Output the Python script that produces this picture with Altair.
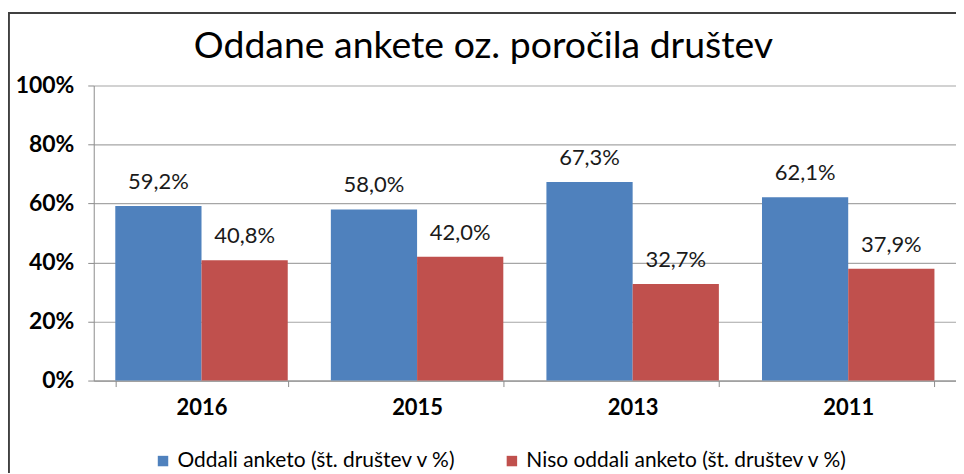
import altair as alt
import pandas as pd

title_text = "Oddane ankete oz. poročila društev"
years = ["2016", "2015", "2013", "2011"]
series = ["Oddali anketo (št. društev v %)", "Niso oddali anketo (št. društev v %)"]
oddali = [59.2, 58.0, 67.3, 62.1]
niso = [40.8, 42.0, 32.7, 37.9]
colors = ["#4F81BD", "#C0504D"]

rows = []
for i, y in enumerate(years):
    for s, vals in zip(series, [oddali, niso]):
        v = vals[i]
        rows.append({"leto": y, "serija": s, "vrednost": v,
                     "oznaka": f"{v:.1f}".replace(".", ",") + "%"})
df = pd.DataFrame(rows)

FONT = "Lato"
W, H = 865, 296

xenc = alt.X("leto:N", sort=years, title=None,
             scale=alt.Scale(paddingInner=0.2, paddingOuter=0.1),
             axis=alt.Axis(labelAngle=0, tickBand="extent", labelFont=FONT,
                           labelFontSize=22, labelFontWeight="bold",
                           labelColor="#000000", domainColor="#8c8c8c",
                           tickColor="#8c8c8c", tickSize=6, labelPadding=11,
                           grid=False))
xoff = alt.XOffset("serija:N", sort=series, scale=alt.Scale(paddingInner=0, paddingOuter=0))
yenc = alt.Y("vrednost:Q", title=None,
             scale=alt.Scale(domain=[0, 100], nice=False),
             axis=alt.Axis(values=[0, 20, 40, 60, 80, 100], labelExpr="datum.value + '%'",
                           labelFont=FONT, labelFontSize=23, labelFontWeight="bold",
                           labelColor="#000000", domainColor="#8c8c8c",
                           tickColor="#8c8c8c", tickSize=6, labelPadding=14,
                           gridColor="#a6a6a6", gridWidth=1.2))

bars = alt.Chart(df).mark_bar().encode(
    x=xenc, xOffset=xoff, y=yenc,
    color=alt.Color("serija:N", sort=series, title=None,
                    scale=alt.Scale(domain=series, range=colors),
                    legend=alt.Legend(orient="none", legendX=59, legendY=366,
                                      direction="horizontal", symbolType="square",
                                      symbolSize=110, symbolStrokeWidth=0,
                                      labelFont=FONT, labelFontSize=21,
                                      labelColor="#000000", columnPadding=45,
                                      labelLimit=500)),
)

labels = alt.Chart(df).mark_text(baseline="bottom", dy=-12, font=FONT,
                                 fontSize=22, color="#1a1a1a").encode(
    x=alt.X("leto:N", sort=years), xOffset=xoff, y="vrednost:Q", text="oznaka:N")

title = alt.Chart(pd.DataFrame({"t": [title_text]})).mark_text(
    font=FONT, fontSize=37.5, color="#000000", baseline="middle", align="center").encode(
    x=alt.value(391), y=alt.value(-39), text="t:N")

frame_top = alt.Chart(df).mark_rule(color="#404040", strokeWidth=1.5).encode(
    x=alt.value(-86), x2=alt.value(W + 20), y=alt.value(-73))
frame_left = alt.Chart(df).mark_rule(color="#404040", strokeWidth=1.5).encode(
    x=alt.value(-85.5), y=alt.value(-73), y2=alt.value(H + 100))

chart = alt.layer(bars, labels, title, frame_top, frame_left).properties(
    width=W, height=H,
    autosize=alt.AutoSizeParams(type="none"),
    padding={"left": 86, "top": 77, "right": 0, "bottom": 92},
).configure_view(stroke=None)

chart.save("out.html", embed_options={"renderer": "svg", "actions": False})
